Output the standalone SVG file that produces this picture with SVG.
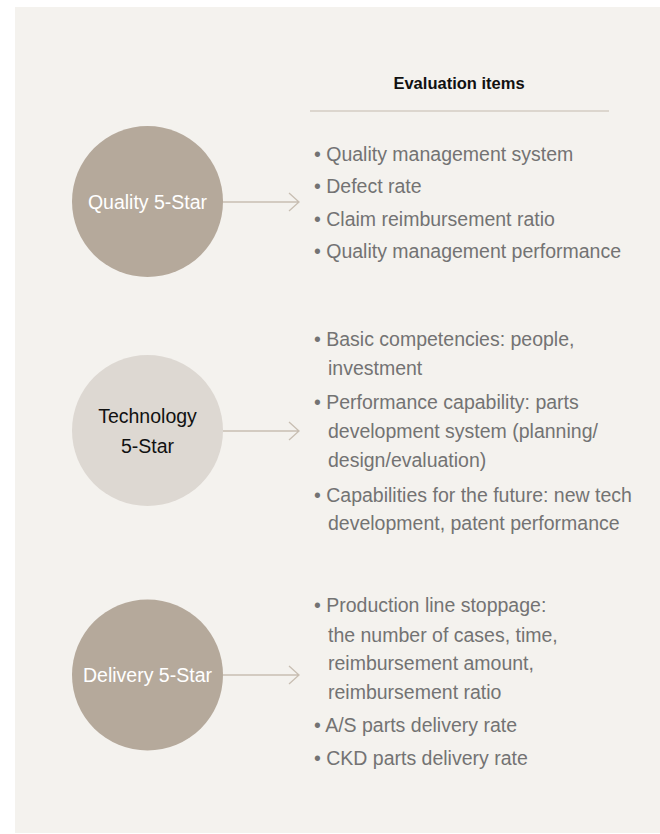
<svg xmlns="http://www.w3.org/2000/svg" width="660" height="834" viewBox="0 0 660 834">
<defs>
<style>
.t{font-family:"Liberation Sans",Arial,sans-serif;font-size:19.5px;fill:#737373}
.c{font-family:"Liberation Sans",Arial,sans-serif;font-size:19.5px;text-anchor:middle}
.h{font-family:"Liberation Sans",Arial,sans-serif;font-size:16.5px;font-weight:bold;fill:#111;text-anchor:middle}
.ln{stroke:#C8BEB2;stroke-width:1.3;fill:none}
</style>
</defs>
<rect x="0" y="0" width="660" height="834" fill="#FFFFFF"/>
<rect x="15" y="7" width="645" height="826" fill="#F4F2EE"/>
<g id="header">
<text class="h" x="459" y="89">Evaluation items</text>
<line x1="310" y1="111" x2="609" y2="111" stroke="#D5CDC3" stroke-width="1.5"/>
</g>
<g id="connectors">
<path class="ln" d="M223 202 H299 M289 193 L299 202 L289 211"/>
<path class="ln" d="M223 431 H299 M289 422 L299 431 L289 440"/>
<path class="ln" d="M223 675 H299 M289 666 L299 675 L289 684"/>
</g>
<g id="quality">
<circle cx="147.5" cy="201.5" r="75.5" fill="#B5A99B"/>
<text class="c" x="147.5" y="209" fill="#FFFFFF">Quality 5-Star</text>
</g>
<g id="technology">
<circle cx="147.5" cy="430.5" r="75.5" fill="#DDD8D2"/>
<text class="c" x="147.5" y="423" fill="#111111">Technology</text>
<text class="c" x="147.5" y="453" fill="#111111">5-Star</text>
</g>
<g id="delivery">
<circle cx="147.5" cy="675" r="75.5" fill="#B5A99B"/>
<text class="c" x="147.5" y="682" fill="#FFFFFF">Delivery 5-Star</text>
</g>
<g id="quality-items">
<text class="t" x="314" y="161">• Quality management system</text>
<text class="t" x="314" y="193">• Defect rate</text>
<text class="t" x="314" y="226">• Claim reimbursement ratio</text>
<text class="t" x="314" y="258">• Quality management performance</text>
</g>
<g id="technology-items">
<text class="t" x="314" y="346">• Basic competencies: people,</text>
<text class="t" x="328" y="375">investment</text>
<text class="t" x="314" y="409">• Performance capability: parts</text>
<text class="t" x="328" y="438">development system (planning/</text>
<text class="t" x="328" y="467">design/evaluation)</text>
<text class="t" x="314" y="502">• Capabilities for the future: new tech</text>
<text class="t" x="328" y="530">development, patent performance</text>
</g>
<g id="delivery-items">
<text class="t" x="314" y="612">• Production line stoppage:</text>
<text class="t" x="328" y="642">the number of cases, time,</text>
<text class="t" x="328" y="670">reimbursement amount,</text>
<text class="t" x="328" y="699">reimbursement ratio</text>
<text class="t" x="314" y="732">• A/S parts delivery rate</text>
<text class="t" x="314" y="765">• CKD parts delivery rate</text>
</g>
</svg>
